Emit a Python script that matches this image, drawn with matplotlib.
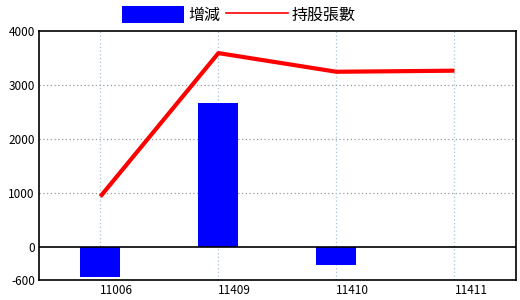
import matplotlib
matplotlib.use('Agg')
import matplotlib.pyplot as plt
import matplotlib.transforms as mtrans
from matplotlib.patches import Patch
from matplotlib.lines import Line2D
import numpy as np

plt.rcParams['font.family'] = ['Noto Sans CJK TC', 'DejaVu Sans']

# data
periods = ['11006', '11409', '11410', '11411']
change = [-540, 2665, -320, 0]          # 增減
shares = [940, 3590, 3245, 3265]        # 持股張數
yticks = [-600, 0, 1000, 2000, 3000, 4000]

x = np.arange(len(periods))

fig = plt.figure(figsize=(5.2, 3.0), dpi=100)
ax = fig.add_axes([0.075, 0.067, 0.917, 0.83])

ax.bar(x, change, width=0.34, color='#0000ff', zorder=2)
ax.plot(x, shares, color='#ff0000', lw=3.0, zorder=3, solid_capstyle='butt')

ax.set_xlim(-0.52, 3.52)
ax.set_ylim(-600, 4000)

# grid
for v in [1000, 2000, 3000]:
    ax.axhline(v, color='#999999', lw=0.9, ls=(0, (1, 2)), zorder=1)
for xi in x:
    ax.axvline(xi, color='#a8c4d4', lw=0.9, ls=(0, (1, 2)), zorder=1)
ax.axhline(0, color='black', lw=1.2, zorder=4)

ax.set_yticks(yticks)
ax.set_yticklabels([str(v) for v in yticks], fontsize=8.5)
ax.set_xticks(x)
ax.set_xticklabels(periods, fontsize=8.5, ha='left')
off = mtrans.ScaledTranslation(1 / 100, 0, fig.dpi_scale_trans)
for lbl in ax.get_xticklabels():
    lbl.set_transform(lbl.get_transform() + off)
ax.tick_params(length=0, pad=3)
for s in ax.spines.values():
    s.set_linewidth(1.2)
    s.set_color('black')

handles = [Patch(facecolor='#0000ff', edgecolor='none'),
           Line2D([0], [0], color='#ff0000', lw=1.2)]
fig.legend(handles, ['增減', '持股張數'], loc='upper left',
           bbox_to_anchor=(0.234, 0.98), ncol=2,
           frameon=False, fontsize=11.5, handlelength=3.9, handleheight=1.3,
           handletextpad=0.25, columnspacing=0.35, borderaxespad=0,
           borderpad=0)

fig.savefig('out.png', dpi=100)
